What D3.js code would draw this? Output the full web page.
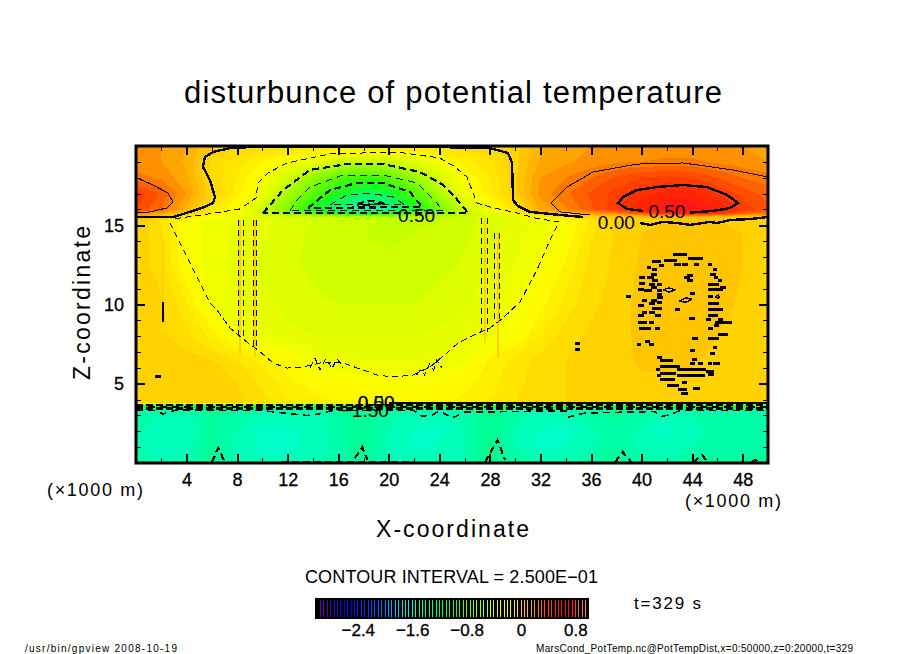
<!DOCTYPE html>
<html>
<head>
<meta charset="utf-8">
<script src="https://cdnjs.cloudflare.com/ajax/libs/d3/7.8.5/d3.min.js"></script>
<style>
  html, body { margin: 0; padding: 0; background: #fff; }
  svg { display: block; }
  text { font-family: "Liberation Sans", sans-serif; fill: #000; }
  .marks path, .marks line, .ticks line { shape-rendering: crispEdges; }
</style>
</head>
<body>
<div id="chart"></div>
<script>
var xTicksMajor = [4, 8, 12, 16, 20, 24, 28, 32, 36, 40, 44, 48];
var xTicksMinor = [2, 6, 10, 14, 18, 22, 26, 30, 34, 38, 42, 46];
var zTicksMajor = [5, 10, 15];
var zTicksMinor = [1, 2, 3, 4, 6, 7, 8, 9, 11, 12, 13, 14, 16, 17, 18, 19];
var barTicks = [-2.4, -1.6, -0.8, 0, 0.8];

// grid of the shaded field, one row per entry of zLevels
var xLevels = [0, 2, 4, 6, 8, 10, 12, 14, 16, 18, 20, 22, 24, 26, 28, 30, 32, 34, 36, 38, 40, 42, 44, 46, 48, 50];
var zLevels = [0, 1, 2, 3, 3.4, 3.55, 3.68, 3.8, 5, 6.5, 8, 10, 12.5, 14.5, 15.3, 15.5, 15.75, 16, 17, 18, 19, 20];
var field = [
  [-1.46,-1.5,-1.52,-1.42,-1.5,-1.54,-1.54,-1.52,-1.46,-1.44,-1.5,-1.54,-1.52,-1.5,-1.38,-1.46,-1.5,-1.5,-1.46,-1.42,-1.48,-1.48,-1.4,-1.44,-1.44,-1.4],
  [-1.5,-1.54,-1.52,-1.42,-1.52,-1.56,-1.56,-1.54,-1.48,-1.4,-1.52,-1.56,-1.54,-1.5,-1.38,-1.5,-1.56,-1.54,-1.5,-1.44,-1.52,-1.54,-1.5,-1.46,-1.48,-1.46],
  [-1.5,-1.54,-1.54,-1.44,-1.5,-1.56,-1.56,-1.54,-1.48,-1.42,-1.5,-1.56,-1.56,-1.5,-1.4,-1.5,-1.56,-1.58,-1.52,-1.46,-1.52,-1.56,-1.54,-1.48,-1.5,-1.48],
  [-1.46,-1.5,-1.52,-1.42,-1.48,-1.52,-1.52,-1.52,-1.46,-1.42,-1.48,-1.52,-1.52,-1.48,-1.4,-1.48,-1.52,-1.52,-1.48,-1.44,-1.48,-1.52,-1.5,-1.46,-1.46,-1.46],
  [-1.44,-1.46,-1.48,-1.42,-1.44,-1.48,-1.46,-1.48,-1.44,-1.42,-1.44,-1.48,-1.46,-1.44,-1.42,-1.46,-1.48,-1.46,-1.44,-1.42,-1.46,-1.48,-1.46,-1.44,-1.44,-1.44],
  [-1.12,-1.12,-1.14,-1.1,-1.1,-1.12,-1.12,-1.14,-1.1,-1.1,-1.12,-1.14,-1.12,-1.1,-1.1,-1.12,-1.14,-1.12,-1.1,-1.1,-1.12,-1.14,-1.12,-1.1,-1.1,-1.1],
  [-0.72,-0.72,-0.7,-0.7,-0.72,-0.72,-0.74,-0.74,-0.74,-0.74,-0.74,-0.74,-0.74,-0.74,-0.72,-0.72,-0.7,-0.7,-0.7,-0.7,-0.7,-0.7,-0.7,-0.7,-0.7,-0.7],
  [0.03,0.03,0.04,0.03,0.01,-0.03,-0.09,-0.13,-0.15,-0.16,-0.17,-0.17,-0.16,-0.13,-0.09,-0.05,-0.02,0,0.01,0.02,0.03,0.03,0.03,0.03,0.03,0.03],
  [0.03,0.03,0.04,0.03,0,-0.06,-0.13,-0.17,-0.19,-0.2,-0.21,-0.21,-0.2,-0.17,-0.12,-0.06,-0.03,0,0.01,0.02,0.04,0.03,0.03,0.03,0.02,0.03],
  [0.03,0.03,0.02,0,-0.05,-0.12,-0.19,-0.27,-0.3,-0.31,-0.31,-0.31,-0.29,-0.26,-0.14,-0.08,-0.03,0,0.01,0.03,0.06,0.07,0.06,0.03,0.03,0.03],
  [0.02,0.01,-0.03,-0.12,-0.24,-0.29,-0.33,-0.35,-0.35,-0.35,-0.35,-0.35,-0.34,-0.31,-0.26,-0.2,-0.1,-0.02,0.01,0.02,0.07,0.08,0.08,0.05,0.03,0.03],
  [0.02,0.01,-0.09,-0.26,-0.29,-0.33,-0.37,-0.39,-0.4,-0.4,-0.4,-0.4,-0.38,-0.36,-0.32,-0.25,-0.17,-0.08,-0.01,0.02,0.07,0.08,0.08,0.07,0.04,0.03],
  [0.03,-0.03,-0.2,-0.28,-0.32,-0.36,-0.39,-0.41,-0.43,-0.44,-0.44,-0.43,-0.42,-0.39,-0.34,-0.3,-0.24,-0.14,-0.03,0.01,0.06,0.07,0.08,0.07,0.05,0.03],
  [0.04,-0.04,-0.22,-0.27,-0.31,-0.34,-0.38,-0.41,-0.43,-0.45,-0.46,-0.45,-0.44,-0.41,-0.37,-0.32,-0.27,-0.2,-0.06,0.01,0.05,0.06,0.07,0.06,0.05,0.03],
  [0.05,-0.06,-0.2,-0.26,-0.3,-0.34,-0.37,-0.4,-0.42,-0.44,-0.46,-0.46,-0.45,-0.42,-0.38,-0.33,-0.28,-0.23,-0.08,0.02,0.04,0.05,0.05,0.05,0.04,0.03],
  [0.12,0.06,-0.1,-0.2,-0.29,-0.38,-0.41,-0.43,-0.45,-0.47,-0.48,-0.48,-0.46,-0.45,-0.4,-0.34,-0.2,-0.05,0,0.03,0.06,0.06,0.08,0.07,0.05,0.05],
  [0.24,0.18,0.05,-0.1,-0.22,-0.42,-0.62,-0.82,-0.98,-1.1,-1.05,-0.85,-0.7,-0.5,-0.3,-0.1,0.08,0.14,0.2,0.26,0.36,0.46,0.5,0.45,0.34,0.26],
  [0.4,0.3,0.13,-0.08,-0.22,-0.45,-0.72,-1.08,-1.35,-1.55,-1.45,-1.1,-0.75,-0.45,-0.28,-0.06,0.16,0.24,0.34,0.44,0.54,0.62,0.64,0.56,0.44,0.36],
  [0.44,0.34,0.2,0.01,-0.12,-0.3,-0.56,-0.82,-1.05,-1.25,-1.15,-0.85,-0.55,-0.28,-0.12,0.04,0.22,0.29,0.36,0.42,0.48,0.52,0.52,0.45,0.38,0.33],
  [0.27,0.24,0.16,-0.01,-0.1,-0.24,-0.42,-0.64,-0.83,-0.92,-0.85,-0.62,-0.42,-0.2,-0.1,0.04,0.2,0.25,0.3,0.36,0.4,0.42,0.4,0.35,0.3,0.27],
  [0.22,0.2,0.14,-0.02,-0.08,-0.15,-0.24,-0.33,-0.44,-0.48,-0.46,-0.36,-0.24,-0.13,-0.06,0.03,0.16,0.19,0.22,0.24,0.25,0.26,0.26,0.24,0.22,0.2],
  [0.22,0.2,0.15,0.06,0.02,0,-0.02,-0.03,-0.04,-0.05,-0.05,-0.04,-0.03,-0.02,-0.01,0.03,0.14,0.18,0.2,0.22,0.22,0.22,0.22,0.22,0.2,0.2]
];

// colours of the tone scale
var toneValues = [-3, -2.75, -2.5, -2.1, -1.8, -1.6, -1.3, -1, -0.7, -0.4, -0.2, 0, 0.1, 0.2, 0.25, 0.35, 0.5, 0.6, 0.7, 0.85, 1];
var toneColors = ["#7000a0", "#3000c0", "#0000ff", "#0060ff", "#00d0ff", "#00ffd0", "#00ff70", "#20ff10", "#80ff00", "#d8ff00", "#ffff00", "#ffd800", "#ffbf00", "#ff9c00", "#ff8400", "#ff5400", "#ff2800", "#ff1818", "#ff1010", "#ff5050", "#ff9090"];

// contour lines, [x, z] in km
var zeroUpper = [[0,15.52],[1.11,15.52],[2.93,15.52],[3.48,15.65],[5.22,16.09],[6.09,16.4],[6.25,16.78],[5.85,17.85],[5.3,18.68],[5.46,19.31],[6.09,19.62],[7.44,19.87],[9.26,19.94],[15,19.96],[22,19.96],[28,19.87],[29.43,19.56],[29.75,18.93],[29.83,16.59],[30.22,16.21],[31.17,15.84],[33.54,15.65],[35.36,15.52]];
var zeroWiggle = [[39.87,15.14],[40.66,15.02],[41.69,15.21],[42.8,15.14],[43.83,15.02],[45.41,15.21],[45.97,15.14],[46.99,15.33],[48.58,15.39],[50,15.52]];
var zeroLower = [[20,3.8],[26,3.78],[32,3.8],[38,3.78],[44,3.8],[50,3.78]];
var zeroBar = [[2.14,10.15],[2.14,8.9]];
var plus25Left = [[0.08,17.98],[1.34,17.54],[2.53,17.03],[2.93,16.47],[2.45,16.09],[1.11,15.84],[0,15.77]];
var plus25Right = [[50,18.04],[47.23,18.49],[43.28,18.93],[39.64,18.86],[36.16,18.36],[34.1,17.41],[32.83,16.4],[33.54,15.84],[35.9,15.65]];
var plus50a = [[43.83,15.8],[45.65,15.9],[46.99,16.09],[47.63,16.4],[46.76,16.91],[45.17,17.41],[43.28,17.54],[41.22,17.41],[39.64,17.22],[38.53,16.78],[38.13,16.4],[38.85,16.03],[40.11,15.9]];
var minus25 = [[2.69,15.14],[3.48,13.88],[5.06,11.36],[5.85,10.09],[6.41,9.65],[7.44,8.52],[8.86,7.57],[9.65,7.13],[10.84,6.31],[11.95,5.99],[13.21,6.06],[14.56,6.31],[16.38,6.31],[17.96,5.87],[19.07,5.55],[20.33,5.43],[21.91,5.55],[23.26,6.06],[24.6,6.94],[25.47,7.57],[27.06,8.2],[28,8.52],[29.04,9.15],[30.38,10.16],[31.72,12.18],[32.75,14.07],[33.47,15.2],[31.57,15.46],[30.14,15.77],[28,16.15],[26.98,16.4],[26.58,17.22],[26.19,18.04],[25.24,18.68],[24.05,19.24],[20.65,19.62],[15.35,19.5],[11.95,18.93],[10.44,18.3],[9.65,17.67],[9.49,16.72],[8.23,16.03],[6.25,15.77],[2.93,15.39]];
var minus25Knots = [
  [[13.77,6],[14.17,6.6],[14.56,5.87],[15.03,6.6],[15.51,5.96],[15.9,6.6],[16.38,6.02]],
  [[22.2,5.55],[22.5,5.87],[22.84,5.55],[23.23,6.25],[23.55,5.87],[23.8,6.5],[24.2,6]]
];
var minus50 = [[10.05,15.77],[11.63,17.22],[13.77,18.49],[16.69,18.86],[19.54,18.86],[22.47,18.36],[24.29,17.54],[25.24,16.78],[26.27,15.77],[10.05,15.77]];
var minus75 = [[12.18,15.9],[12.74,16.59],[13.77,17.41],[16.38,18.17],[19.54,18.17],[22.23,17.67],[23.81,16.4],[24.29,15.9],[12.18,15.9]];
var minus100 = [[13.61,16.09],[15.35,17.22],[17.48,17.67],[19.54,17.67],[21.68,17.1],[22.63,16.15],[13.61,16.09]];
var minus125 = [[15.35,16.28],[16.69,16.91],[18.51,17.03],[20.33,16.78],[21.28,16.28],[15.35,16.28]];
var minus150 = [[17.48,16.34],[18.35,16.53],[19.3,16.47],[19.7,16.34],[17.48,16.28]];
var layerThick = [
  [[0,3.66],[50,3.66]],
  [[0,3.42],[50,3.42]]
];
var layerThin = [
  [[0,3.55],[50,3.55]],
  [[0,3.3],[1.5,3.3],[2.14,3.1],[3.2,3.35],[10,3.3],[13.5,3],[14.5,3.1],[15.5,3.3],[22,3.3],[22.6,2.95],[23.5,3.05],[24,3.3],[25,2.84],[26,3.2],[34,3.3],[34.2,2.9],[35.5,3.15],[41,3.25],[41.6,2.95],[42.3,3.05],[43,3.3],[45,3.3],[50,3.3]]
];
var verticalPairs = [
  [[8.07,15.3],[8.07,7.76]], [[8.47,15.3],[8.47,7.76]],
  [[9.26,15.3],[9.26,7.13]], [[9.57,15.3],[9.57,7.13]],
  [[27.37,15.46],[27.37,8.27]], [[27.77,15.46],[27.77,8.27]],
  [[28.4,14.5],[28.4,9]], [[28.72,14.5],[28.72,9]]
];
var bottomBumps = [
  [[6,0.05],[6.5,0.95],[7.04,0.05]],
  [[17.3,0.3],[17.9,1],[18.3,0.2]],
  [[27.6,0.05],[28.6,1.45],[29.2,0.2]],
  [[37.9,0.05],[38.5,0.7],[39.2,0.05]],
  [[44.05,0.05],[44.8,0.5],[45.2,0.05]],
  [[48.7,0.05],[49,0.2],[49.3,0.05]],
  [[11.5,0.08],[22,0.08]]
];
// narrow warmer streaks in the shading, [x, top z, bottom z]
var streaks = [[8.2,15.3,6.9],[9.4,15.3,6.7],[27.6,15.3,7.6],[28.6,14.5,6.6],[2.1,14,9.5]];
// small closed contours of the noise around x=40-47, [x0, x1, z]
var specks = [
  [42.64,43.51,13.14],[43.75,44.7,12.91],[41.9,42.72,12.75],[40.93,41.45,12.7],[42.72,42.98,12.53],[43.3,43.56,12.53],[44.3,44.46,12.53],[41.51,41.67,12.49],[45.36,45.46,12.53],
  [40.53,40.66,12.32],[40.93,41.09,12.22],[45.73,45.88,12.18],[40.87,41.09,11.92],[43.7,43.96,11.86],[45.54,45.73,11.92],[40.53,40.87,11.71],[39.92,40.14,11.71],[43.51,43.7,11.71],[45.81,45.94,11.71],
  [43.7,43.96,11.5],[46.15,46.28,11.5],[40.93,41.14,11.5],[39.92,40.14,11.34],[40.72,40.93,11.29],[41.32,41.53,11.29],[45.36,45.57,11.29],[45.73,45.99,11.29],[40.87,41.09,11.06],[46.33,46.57,11.08],
  [41.32,41.51,10.87],[40.27,40.72,10.87],[39.87,40.08,10.92],[45.73,46.33,10.92],[45.36,45.54,10.92],[43.96,44.14,10.71],[41.32,41.51,10.6],[45.36,45.54,10.49],[38.87,39.03,10.49],[41.32,41.59,10.45],
  [40.14,40.27,10.28],[40.87,41.09,10.28],[41.32,41.51,10.14],[40.72,40.93,10.07],[45.36,45.57,10.07],[45.73,45.99,10.07],[39.87,40.08,9.91],[40.98,41.51,9.72],[42.77,42.9,9.7],[45.36,45.57,9.7],[45.73,45.99,9.7],[46.15,46.36,9.7],
  [40.72,40.93,9.49],[40.14,40.27,9.49],[39.87,40.08,9.28],[41.14,41.45,9.28],[45.36,45.57,9.28],[45.73,45.94,9.28],[43.88,44.09,9.11],[45.2,45.36,9.07],[46.15,46.33,9.07],[45.94,47.07,8.88],[39.87,40.27,8.88],[40.72,40.87,8.88],
  [45.81,45.99,8.67],[39.92,40.35,8.5],[40.53,40.66,8.5],[41.14,41.3,8.5],[45.36,45.54,8.5],[46.2,46.73,8.08],[44.09,44.36,7.87],[45.36,45.52,7.87],[45.73,45.99,7.87],[40.35,40.51,7.66],[39.74,39.87,7.49],[40.72,40.87,7.49],
  [45.73,45.88,7.28],[43.96,44.14,7.07],[45.54,45.67,6.88],[41.32,41.51,6.67],[41.59,42.38,6.48],[44.14,44.3,6.5],[43.96,44.14,6.25],[44.57,44.72,6.29],[45.73,46.1,6.25],[45.36,45.46,6.25],
  [41.59,42.9,6.08],[42.9,43.3,5.87],[43.51,43.99,5.87],[44.14,44.57,5.87],[44.83,44.94,5.87],[45.2,45.57,5.76],[41.59,42.64,5.66],[41.24,41.35,5.87],[42.9,43.19,5.49],[43.35,43.88,5.49],[44.14,44.57,5.49],[44.75,44.88,5.49],[45.36,45.57,5.57],
  [41.32,41.45,5.49],[41.59,42.51,5.28],[43.3,43.46,5.07],[42.11,42.83,4.88],[44.22,44.51,4.69],[42.98,43.46,4.63],[43.25,43.56,4.4],
  [34.82,34.98,7.57],[34.82,34.98,7.13],[1.66,1.82,5.43]
];
var speckRings = [
  [[41.7,10.92],[42.17,11.05],[42.64,10.92],[42.17,10.79],[41.7,10.92]],
  [[43,10.22],[43.5,10.42],[43.96,10.34],[43.5,10.14],[43,10.22]],
  [[45.85,10.49],[46.05,10.6],[46.15,10.49],[46.05,10.38],[45.85,10.49]]
];

// contour labels
var labelTexts = ["0.50", "0.00", "0.50", "0.50", "0.00", "\u22121.50"];
var labelX = [22.2, 38, 42, 19, 19, 18.1];
var labelZ = [15.6, 15.2, 15.85, 3.8, 3.85, 3.3];

var width = 904, height = 654;
var plotLeft = 136, plotRight = 768, plotTop = 146, plotBottom = 463;

var svg = d3.select("#chart").append("svg")
    .attr("width", width)
    .attr("height", height);

var x = d3.scaleLinear().domain([0, 50]).range([plotLeft, plotRight]);
var z = d3.scaleLinear().domain([0, 20]).range([plotBottom, plotTop]);
var barScale = d3.scaleLinear().domain([-3, 1]).range([317, 589]);
var tone = d3.scaleLinear().domain(toneValues).range(toneColors).clamp(true);

svg.append("clipPath").attr("id", "plot-clip").append("rect")
    .attr("x", plotLeft).attr("y", plotTop)
    .attr("width", plotRight - plotLeft).attr("height", plotBottom - plotTop);

var marks = svg.append("g").attr("class", "marks").attr("clip-path", "url(#plot-clip)");

// shading: filled bands every 0.05, grid indexes go through the level scales
var levels = d3.range(-3, 1, 0.05);
var bands = d3.contours()
    .size([xLevels.length, zLevels.length])
    .thresholds(levels)(d3.merge(field));

var iToX = d3.scaleLinear().domain(d3.range(xLevels.length)).range(xLevels).clamp(true);
var jToZ = d3.scaleLinear().domain(d3.range(zLevels.length)).range(zLevels).clamp(true);
var gridPath = d3.geoPath(d3.geoTransform({
  point: function(i, j) {
    this.stream.point(x(iToX(i - 0.5)), z(jToZ(j - 0.5)));
  }
}));

marks.selectAll(".band")
    .data(bands)
    .enter().append("path")
    .attr("class", "band")
    .attr("d", gridPath)
    .attr("fill", function(d) { return tone(d.value + 0.025); });

marks.selectAll(".streak")
    .data(streaks)
    .enter().append("line")
    .attr("class", "streak")
    .attr("x1", function(d) { return x(d[0]); })
    .attr("x2", function(d) { return x(d[0]); })
    .attr("y1", function(d) { return z(d[1]); })
    .attr("y2", function(d) { return z(d[2]); })
    .attr("stroke", "#ffd000")
    .attr("stroke-width", 2);

var line = d3.line()
    .x(function(d) { return x(d[0]); })
    .y(function(d) { return z(d[1]); });

function drawLines(data, strokeWidth, dash) {
  marks.append("g").selectAll("path")
      .data(data)
      .enter().append("path")
      .attr("d", line)
      .attr("fill", "none")
      .attr("stroke", "#000")
      .attr("stroke-width", strokeWidth)
      .attr("stroke-dasharray", dash);
}

drawLines([zeroUpper, zeroWiggle, zeroLower, plus50a, zeroBar], 2.4, null);
drawLines([plus25Left, plus25Right], 1, null);
drawLines([minus25].concat(minus25Knots, verticalPairs), 1, "6 4");
drawLines(layerThin, 1.6, "7 5");
drawLines([minus75, minus125], 1, "7 5");
drawLines([minus50, minus100, minus150].concat(bottomBumps), 2.2, "7 4");
drawLines(layerThick, 2.6, "7 3");
drawLines(speckRings, 1.4, null);

marks.append("g").selectAll("line")
    .data(specks)
    .enter().append("line")
    .attr("x1", function(d) { return x(d[0]); })
    .attr("x2", function(d) { return x(d[1]); })
    .attr("y1", function(d) { return z(d[2]); })
    .attr("y2", function(d) { return z(d[2]); })
    .attr("stroke", "#000")
    .attr("stroke-width", 3)
    .attr("stroke-linecap", "square");

svg.append("g").selectAll("text")
    .data(labelTexts)
    .enter().append("text")
    .attr("x", function(d, i) { return x(labelX[i]); })
    .attr("y", function(d, i) { return z(labelZ[i]); })
    .attr("dy", "0.35em")
    .attr("text-anchor", "middle")
    .attr("font-size", 19)
    .text(function(d) { return d; });

// frame and inward ticks on all four sides
function addTicks(axis, dx, dy) {
  var g = svg.append("g")
      .attr("class", "ticks")
      .attr("transform", "translate(" + dx + "," + dy + ")")
      .call(axis);
  g.select(".domain").remove();
  g.selectAll("line").attr("stroke", "#000");
  return g;
}

function styleMajor(g) {
  g.selectAll("line").attr("stroke-width", 2);
  g.selectAll("text").attr("font-size", 18).attr("fill", "#000")
      .attr("stroke", "#000").attr("stroke-width", 0.3);
}

var noLabel = function() { return ""; };
var major = 9, minor = 5;

styleMajor(addTicks(d3.axisBottom(x).tickValues(xTicksMajor).tickSize(-major).tickPadding(10), 0, plotBottom));
styleMajor(addTicks(d3.axisLeft(z).tickValues(zTicksMajor).tickFormat(d3.format("d")).tickSize(0).tickPadding(12), plotLeft, 0));
styleMajor(addTicks(d3.axisLeft(z).tickValues(zTicksMajor).tickFormat(noLabel).tickSize(-major), plotLeft, 0));
styleMajor(addTicks(d3.axisTop(x).tickValues(xTicksMajor).tickFormat(noLabel).tickSize(-major), 0, plotTop));
styleMajor(addTicks(d3.axisRight(z).tickValues(zTicksMajor).tickFormat(noLabel).tickSize(-major), plotRight, 0));
addTicks(d3.axisBottom(x).tickValues(xTicksMinor).tickFormat(noLabel).tickSize(-minor), 0, plotBottom);
addTicks(d3.axisTop(x).tickValues(xTicksMinor).tickFormat(noLabel).tickSize(-minor), 0, plotTop);
addTicks(d3.axisLeft(z).tickValues(zTicksMinor).tickFormat(noLabel).tickSize(-minor), plotLeft, 0);
addTicks(d3.axisRight(z).tickValues(zTicksMinor).tickFormat(noLabel).tickSize(-minor), plotRight, 0);

svg.append("rect")
    .attr("x", plotLeft).attr("y", plotTop)
    .attr("width", plotRight - plotLeft).attr("height", plotBottom - plotTop)
    .attr("fill", "none")
    .attr("stroke", "#000")
    .attr("stroke-width", 3);

function putText(str, px, py, size, len) {
  var t = svg.append("text")
      .attr("x", px).attr("y", py)
      .attr("font-size", size)
      .text(str);
  if (len) t.attr("textLength", len).attr("lengthAdjust", "spacing");
  return t;
}

putText("disturbunce of potential temperature", 184, 103, 31, 538);
putText("X-coordinate", 376, 537, 23, 153);
putText("(\u00d71000 m)", 47, 496, 18, 96);
putText("(\u00d71000 m)", 685, 507, 18, 96);
putText("CONTOUR INTERVAL = 2.500E\u221201", 305, 583, 18, 293);
putText("t=329 s", 634, 609, 17, 67);
putText("/usr/bin/gpview   2008-10-19", 25, 652, 10, 152);
putText("MarsCond_PotTemp.nc@PotTempDist,x=0:50000,z=0:20000,t=329", 536, 652, 10, 317);

svg.append("text")
    .attr("transform", "translate(90,380) rotate(-90)")
    .attr("font-size", 23)
    .attr("textLength", 154)
    .attr("lengthAdjust", "spacing")
    .text("Z-coordinate");

// colour bar
var barG = svg.append("g").attr("class", "marks");
barG.append("rect")
    .attr("x", 315).attr("y", 598)
    .attr("width", 274).attr("height", 21)
    .attr("fill", "#000");
barG.selectAll("line")
    .data(levels.slice(1))
    .enter().append("line")
    .attr("x1", function(d) { return barScale(d); })
    .attr("x2", function(d) { return barScale(d); })
    .attr("y1", 600)
    .attr("y2", 617)
    .attr("stroke", function(d) { return tone(d); })
    .attr("stroke-width", 1);

var barAxis = d3.axisBottom(barScale)
    .tickValues(barTicks)
    .tickFormat(function(d) { return d === 0 ? "0" : d3.format(".1f")(d).replace("-", "\u2212"); })
    .tickSize(0)
    .tickPadding(5);
var barAxisG = svg.append("g").attr("transform", "translate(0,619)").call(barAxis);
barAxisG.select(".domain").remove();
barAxisG.selectAll("text").attr("font-size", 17).attr("fill", "#000")
    .attr("stroke", "#000").attr("stroke-width", 0.3);
</script>
</body>
</html>
